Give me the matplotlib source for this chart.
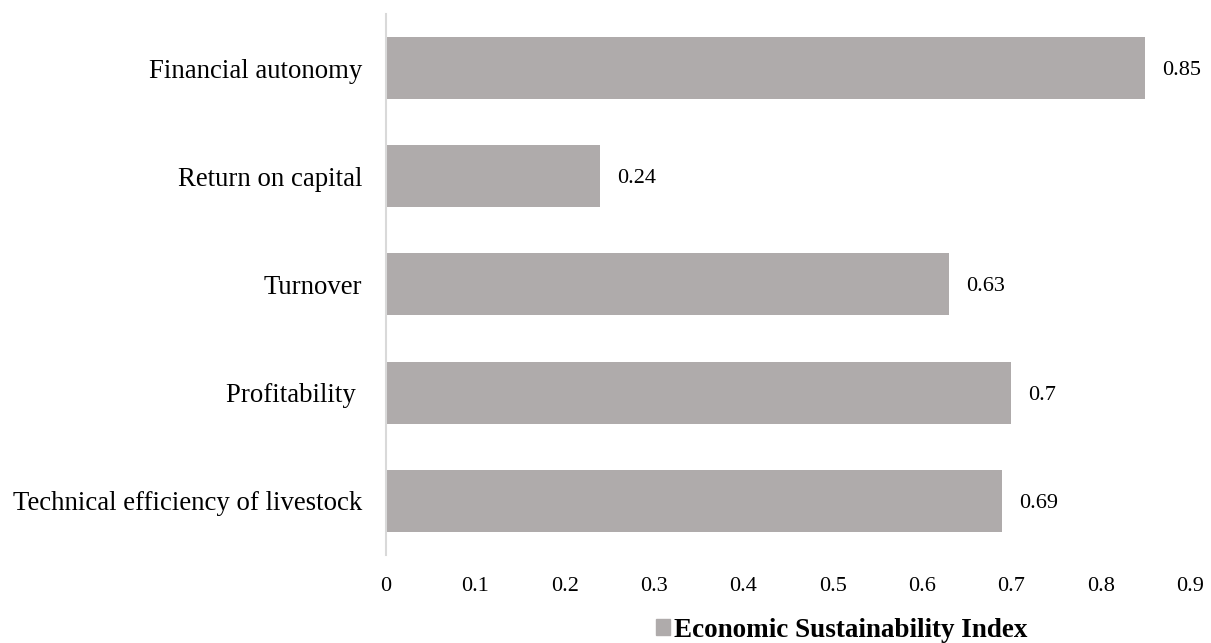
import matplotlib
matplotlib.use('Agg')
import matplotlib.pyplot as plt
from matplotlib.patches import Patch

# indicator names, drawn top to bottom
categories = ['Financial autonomy', 'Return on capital', 'Turnover',
              'Profitability ', 'Technical efficiency of livestock']
values = [0.85, 0.24, 0.63, 0.7, 0.69]
xticks = [0, 0.1, 0.2, 0.3, 0.4, 0.5, 0.6, 0.7, 0.8, 0.9]
xticklabels = ['0', '0.1', '0.2', '0.3', '0.4', '0.5', '0.6', '0.7', '0.8', '0.9']
series_name = 'Economic Sustainability Index'

plt.rcParams['font.family'] = ['Liberation Serif', 'DejaVu Serif']

bar_color = '#AFABAB'

fig = plt.figure(figsize=(12.11, 6.43), dpi=100)
ax = fig.add_axes([0.3187, 0.1369, 0.664, 0.8413])

ypos = list(range(len(categories)))
bars = ax.barh(ypos, values, height=0.573, color=bar_color)
ax.set_ylim(len(categories) - 0.5, -0.5)
ax.set_xlim(0, 0.9)

# value labels to the right of each bar
for y, v in zip(ypos, values):
    ax.text(v + 0.019, y, f'{v:g}', va='center_baseline', ha='left', fontsize=16)

ax.set_yticks(ypos)
ax.set_yticklabels(categories, fontsize=19.3)
ax.set_xticks(xticks)
ax.set_xticklabels(xticklabels, fontsize=16)
ax.tick_params(axis='both', length=0)
ax.tick_params(axis='x', pad=16)
ax.tick_params(axis='y', pad=17)

for s in ['top', 'right', 'bottom']:
    ax.spines[s].set_visible(False)
ax.spines['left'].set_color('#D9D9D9')
ax.spines['left'].set_linewidth(1.5)

fig.legend(handles=[Patch(color=bar_color, label=series_name)],
           loc='center', bbox_to_anchor=(0.695, 0.02), frameon=False,
           handlelength=0.5, handleheight=0.5, handletextpad=0.15,
           prop={'weight': 'bold', 'size': 19.5})

fig.savefig('out.png', dpi=100)
